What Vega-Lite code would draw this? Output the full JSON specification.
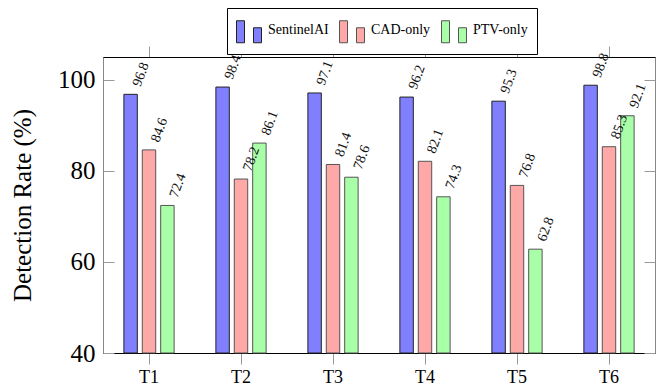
{
  "$schema": "https://vega.github.io/schema/vega-lite/v6.json",
  "width": 552,
  "height": 296,
  "autosize": "none",
  "padding": {"left": 103, "top": 57, "right": 15, "bottom": 38},
  "background": "white",
  "config": {"view": {"stroke": "#888", "strokeWidth": 1}, "font": "Liberation Serif"},
  "data": {"values": [
    {"task": "T1", "series": "SentinelAI", "value": 96.8},
    {"task": "T1", "series": "CAD-only", "value": 84.6},
    {"task": "T1", "series": "PTV-only", "value": 72.4},
    {"task": "T2", "series": "SentinelAI", "value": 98.4},
    {"task": "T2", "series": "CAD-only", "value": 78.2},
    {"task": "T2", "series": "PTV-only", "value": 86.1},
    {"task": "T3", "series": "SentinelAI", "value": 97.1},
    {"task": "T3", "series": "CAD-only", "value": 81.4},
    {"task": "T3", "series": "PTV-only", "value": 78.6},
    {"task": "T4", "series": "SentinelAI", "value": 96.2},
    {"task": "T4", "series": "CAD-only", "value": 82.1},
    {"task": "T4", "series": "PTV-only", "value": 74.3},
    {"task": "T5", "series": "SentinelAI", "value": 95.3},
    {"task": "T5", "series": "CAD-only", "value": 76.8},
    {"task": "T5", "series": "PTV-only", "value": 62.8},
    {"task": "T6", "series": "SentinelAI", "value": 98.8},
    {"task": "T6", "series": "CAD-only", "value": 85.3},
    {"task": "T6", "series": "PTV-only", "value": 92.1}
  ]},
  "resolve": {"axis": {"x": "independent", "y": "independent"}},
  "layer": [
    {
      "mark": {"type": "bar", "strokeWidth": 1},
      "encoding": {
        "x": {"field": "task", "type": "nominal",
          "scale": {"paddingInner": 0.4, "paddingOuter": 0.2},
          "axis": {"orient": "bottom", "title": null, "labelAngle": 0, "labelFont": "Liberation Serif", "labelFontSize": 18, "labelColor": "black", "domainColor": "black", "ticks": true, "tickColor": "#999", "tickSize": 11, "labelPadding": 4}},
        "xOffset": {"field": "series", "type": "nominal", "sort": ["SentinelAI", "CAD-only", "PTV-only"],
          "scale": {"paddingInner": 0.27, "paddingOuter": 0.135}},
        "y": {"field": "value", "type": "quantitative",
          "scale": {"domain": [40, 105], "nice": false, "zero": false},
          "axis": {"orient": "left", "offset": -11, "domain": false, "values": [40, 60, 80, 100], "title": "Detection Rate (%)", "titleFont": "Liberation Serif", "titleFontSize": 25, "titleFontWeight": "normal", "titleColor": "black", "titlePadding": 22, "labelFont": "Liberation Serif", "labelFontSize": 25, "labelColor": "black", "ticks": true, "tickColor": "#999", "tickSize": 11, "labelPadding": 8, "grid": false}},
        "y2": {"datum": 40},
        "fill": {"field": "series", "type": "nominal", "sort": ["SentinelAI", "CAD-only", "PTV-only"],
          "scale": {"domain": ["SentinelAI", "CAD-only", "PTV-only"], "range": ["#8080ff", "#ffa8a8", "#a8ffa8"]},
          "legend": {"title": null, "orient": "none", "legendX": 124, "legendY": -49, "direction": "horizontal", "columns": 3, "zindex": 1,
            "fillColor": "white", "strokeColor": "black", "padding": 9, "columnPadding": 8, "labelOffset": 6,
            "labelFont": "Liberation Serif", "labelFontSize": 14, "labelColor": "black",
            "symbolType": "M-1,-0.76 L-0.36,-0.76 L-0.36,1 L-1,1 Z M0.36,-0.2 L1,-0.2 L1,1 L0.36,1 Z",
            "symbolSize": 625, "symbolStrokeWidth": 1, "symbolOpacity": 1}},
        "stroke": {"field": "series", "type": "nominal", "sort": ["SentinelAI", "CAD-only", "PTV-only"],
          "scale": {"domain": ["SentinelAI", "CAD-only", "PTV-only"], "range": ["#222222", "#555555", "#555555"]},
          "legend": {"title": null, "orient": "none", "legendX": 124, "legendY": -49, "direction": "horizontal", "columns": 3, "zindex": 1,
            "fillColor": "white", "strokeColor": "black", "padding": 9, "columnPadding": 8, "labelOffset": 6,
            "labelFont": "Liberation Serif", "labelFontSize": 14, "labelColor": "black",
            "symbolType": "M-1,-0.76 L-0.36,-0.76 L-0.36,1 L-1,1 Z M0.36,-0.2 L1,-0.2 L1,1 L0.36,1 Z",
            "symbolSize": 625, "symbolStrokeWidth": 1, "symbolOpacity": 1}}
      }
    },
    {
      "mark": {"type": "text", "angle": 290, "align": "left", "baseline": "middle", "dx": 10, "dy": 3, "font": "Liberation Serif", "fontSize": 14, "color": "#111"},
      "encoding": {
        "x": {"field": "task", "type": "nominal",
          "axis": {"orient": "top", "title": null, "labels": false, "domainColor": "black", "ticks": true, "tickColor": "#999", "tickSize": 11}},
        "xOffset": {"field": "series", "type": "nominal", "sort": ["SentinelAI", "CAD-only", "PTV-only"]},
        "y": {"field": "value", "type": "quantitative",
          "axis": {"orient": "right", "offset": -11, "domain": false, "title": null, "labels": false, "values": [40, 60, 80, 100], "ticks": true, "tickColor": "#999", "tickSize": 11, "grid": false}},
        "text": {"field": "value", "type": "quantitative", "format": ".1f"}
      }
    }
  ]
}
